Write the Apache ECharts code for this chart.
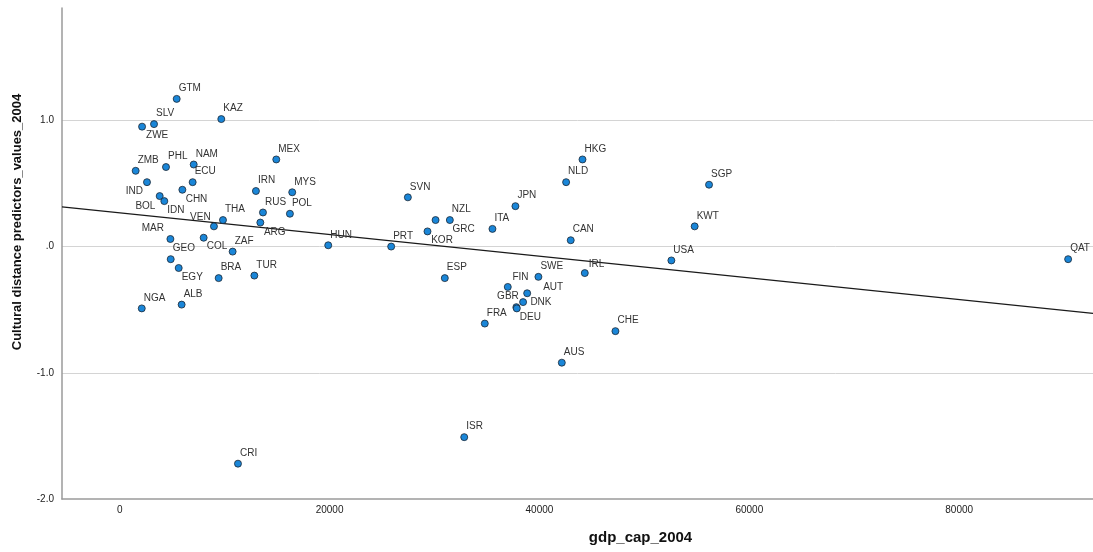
<!DOCTYPE html>
<html>
<head>
<meta charset="utf-8">
<script src="https://cdn.jsdelivr.net/npm/echarts@6/dist/echarts.min.js"></script>
<style>
  html, body { margin: 0; padding: 0; background: #ffffff; }
  #chart { width: 1093px; height: 552px; }
</style>
</head>
<body>
<div id="chart"></div>
<script>
// Country codes, GDP per capita (2004) and cultural distance (values, 2004)
const countries = [
  'GTM', 'KAZ', 'SLV', 'ZWE', 'MEX', 'ZMB', 'PHL', 'NAM', 'ECU', 'IND',
  'CHN', 'BOL', 'IDN', 'IRN', 'MYS', 'RUS', 'POL', 'THA', 'VEN', 'ARG',
  'HUN', 'MAR', 'COL', 'ZAF', 'GEO', 'EGY', 'BRA', 'TUR', 'NGA', 'ALB',
  'SVN', 'NZL', 'GRC', 'KOR', 'ITA', 'JPN', 'PRT', 'ESP', 'SWE', 'FIN',
  'AUT', 'DNK', 'GBR', 'DEU', 'FRA', 'HKG', 'NLD', 'SGP', 'KWT', 'CAN',
  'USA', 'IRL', 'CHE', 'AUS', 'QAT', 'CRI', 'ISR'
];
const gdpCap2004 = [
  5430, 9680, 3270, 2130, 14920, 1520, 4410, 7050, 6950, 2600,
  5970, 3810, 4250, 12980, 16440, 13650, 16220, 9840, 8980, 13400,
  19870, 4830, 8000, 10760, 4860, 5620, 9430, 12830, 2100, 5900,
  27460, 31460, 30100, 29330, 35520, 37710, 25870, 30980, 39900, 36980,
  38830, 38440, 37800, 37840, 34790, 44100, 42540, 56160, 54790, 42980,
  52570, 44320, 47240, 42130, 90380, 11270, 32830
];
const culturalDistance2004 = [
  1.17, 1.01, 0.97, 0.95, 0.69, 0.60, 0.63, 0.65, 0.51, 0.51,
  0.45, 0.40, 0.36, 0.44, 0.43, 0.27, 0.26, 0.21, 0.16, 0.19,
  0.01, 0.06, 0.07, -0.04, -0.10, -0.17, -0.25, -0.23, -0.49, -0.46,
  0.39, 0.21, 0.21, 0.12, 0.14, 0.32, 0.00, -0.25, -0.24, -0.32,
  -0.37, -0.44, -0.48, -0.49, -0.61, 0.69, 0.51, 0.49, 0.16, 0.05,
  -0.11, -0.21, -0.67, -0.92, -0.10, -1.72, -1.51
];

// Linear fit line, end points at the edges of the x range
const fitLineX = [-5500, 92750];
const fitLineY = [0.314, -0.530];

// Axis ticks
const xTickValues = [0, 20000, 40000, 60000, 80000];
const yTickValues = [-2, -1, 0, 1];
const yTickLabels = ['-2.0', '-1.0', '.0', '1.0'];

// Point label placement (pixel offset from the point; align of the text)
const defaultPlacement = [2, -10.5, 'left'];
const labelPlacement = {
  ZWE: [4, 9, 'left'],
  IND: [-4, 9.3, 'right'],
  CHN: [3.3, 9.7, 'left'],
  BOL: [-4.3, 9.7, 'right'],
  IDN: [3, 9.3, 'left'],
  VEN: [-3.3, -9.3, 'right'],
  ARG: [3.6, 9.6, 'left'],
  MAR: [-6.4, -10.3, 'right'],
  COL: [3, 9, 'left'],
  EGY: [3, 9.7, 'left'],
  GRC: [17, 8.7, 'left'],
  KOR: [3.7, 9, 'left'],
  GBR: [2.4, -11, 'right'],
  DNK: [7.3, 0, 'left'],
  DEU: [3, 8.7, 'left'],
  AUT: [16, -6, 'left'],
  FIN: [4.7, -9.4, 'left'],
  IRL: [4, -9.3, 'left']
};

const FONT = '"Liberation Sans", Arial, sans-serif';

const points = countries.map(function (code, i) {
  const p = labelPlacement[code] || defaultPlacement;
  return {
    name: code,
    value: [gdpCap2004[i], culturalDistance2004[i]],
    label: { offset: [p[0], p[1]], align: p[2] }
  };
});

const chart = echarts.init(document.getElementById('chart'), null, { renderer: 'canvas' });

chart.setOption({
  animation: false,
  backgroundColor: '#ffffff',
  grid: { left: 62, right: 0, top: 8, bottom: 53, containLabel: false },
  xAxis: {
    type: 'value',
    min: fitLineX[0],
    max: fitLineX[1],
    name: 'gdp_cap_2004',
    nameLocation: 'middle',
    nameGap: 31,
    nameTextStyle: {
      fontFamily: FONT, fontSize: 15, fontWeight: 'bold', color: '#111',
      padding: [0, 0, 0, 126]
    },
    axisLine: { show: true, onZero: false, lineStyle: { color: '#9a9a9a', width: 1.5 } },
    axisTick: { show: false },
    splitLine: { show: false },
    axisLabel: {
      customValues: xTickValues,
      margin: 6,
      fontFamily: FONT, fontSize: 10, color: '#222',
      formatter: function (v) { return String(v); }
    }
  },
  yAxis: {
    type: 'value',
    min: yTickValues[0],
    max: 1.89,
    interval: 1,
    name: 'Cultural distance predictors_values_2004',
    nameLocation: 'middle',
    nameGap: 38,
    nameTextStyle: {
      fontFamily: FONT,
      fontSize: 13, fontWeight: 'bold', color: '#111',
      padding: [0, 0, 0, 63]
    },
    axisLine: { show: true, onZero: false, lineStyle: { color: '#9a9a9a', width: 1.5 } },
    axisTick: { show: false },
    splitLine: {
      show: true, showMinLine: false, showMaxLine: false,
      lineStyle: { color: '#d4d4d4', width: 1 }
    },
    axisLabel: {
      margin: 8,
      fontFamily: FONT, fontSize: 10, color: '#222',
      showMaxLabel: false,
      formatter: function (v) {
        const k = yTickValues.indexOf(v);
        return k >= 0 ? yTickLabels[k] : '';
      }
    }
  },
  series: [
    {
      type: 'line',
      data: [[fitLineX[0], fitLineY[0]], [fitLineX[1], fitLineY[1]]],
      showSymbol: false,
      silent: true,
      z: 2,
      lineStyle: { color: '#1a1a1a', width: 1.2 }
    },
    {
      type: 'scatter',
      data: points,
      symbol: 'circle',
      symbolSize: 7,
      z: 3,
      itemStyle: { color: '#1a86d8', borderColor: '#1c2733', borderWidth: 0.8, opacity: 1 },
      label: {
        show: true,
        position: 'inside',
        formatter: '{b}',
        fontFamily: FONT,
        fontSize: 10,
        color: '#333',
        textBorderWidth: 0,
        verticalAlign: 'middle'
      },
      emphasis: { disabled: true }
    }
  ]
});
</script>
</body>
</html>
